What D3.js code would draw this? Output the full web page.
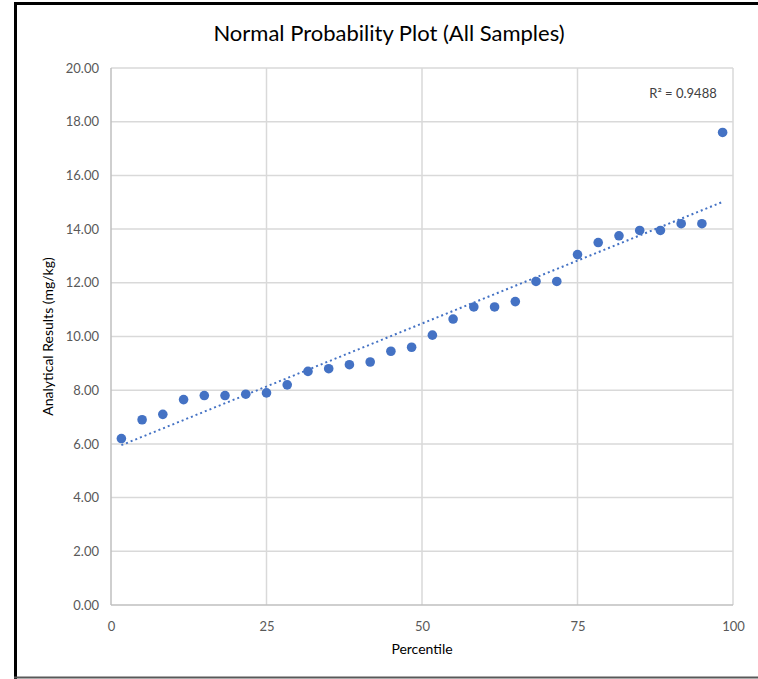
<!DOCTYPE html>
<html><head><meta charset="utf-8">
<script src="https://cdn.jsdelivr.net/npm/d3@7"></script>
<style>
html,body{margin:0;padding:0;background:#fff;}
svg{display:block;font-family:Lato,"Open Sans",sans-serif;}
</style></head>
<body>
<svg id="c" width="758" height="679"></svg>
<script>
const percentiles = [1.67,5,8.33,11.67,15,18.33,21.67,25,28.33,31.67,35,38.33,41.67,45,48.33,51.67,55,58.33,61.67,65,68.33,71.67,75,78.33,81.67,85,88.33,91.67,95,98.33];
const results = [6.2,6.9,7.1,7.65,7.8,7.8,7.85,7.9,8.2,8.7,8.8,8.95,9.05,9.45,9.6,10.05,10.65,11.1,11.1,11.3,12.05,12.05,13.05,13.5,13.75,13.95,13.95,14.2,14.2,17.6];
const xTicks = [0,25,50,75,100];
const yTicks = [0,2,4,6,8,10,12,14,16,18,20];
const title = "Normal Probability Plot (All Samples)";
const xLabel = "Percentile";
const yLabel = "Analytical Results (mg/kg)";
const r2Label = "R² = 0.9488";

const svg = d3.select("#c");
const x = d3.scaleLinear().domain([0,100]).range([111,733]);
const y = d3.scaleLinear().domain([0,20]).range([605,68]);

// frame
svg.append("line").attr("x1",15.5).attr("x2",15.5).attr("y1",2).attr("y2",679).attr("stroke","#000").attr("stroke-width",3);
svg.append("line").attr("x1",14).attr("x2",758).attr("y1",3.5).attr("y2",3.5).attr("stroke","#000").attr("stroke-width",3);
svg.append("line").attr("x1",14).attr("x2",758).attr("y1",677.5).attr("y2",677.5).attr("stroke","#595959").attr("stroke-width",2);

// gridlines
const g = svg.append("g");
g.selectAll(".hg").data(yTicks.filter(d=>d>0)).join("line")
  .attr("x1",x(0)).attr("x2",x(100)).attr("y1",d=>y(d)).attr("y2",d=>y(d))
  .attr("stroke","#d9d9d9").attr("stroke-width",1.5);
g.selectAll(".vg").data(xTicks.filter(d=>d>0)).join("line")
  .attr("x1",d=>x(d)).attr("x2",d=>x(d)).attr("y1",y(0)).attr("y2",y(20))
  .attr("stroke","#d9d9d9").attr("stroke-width",1.5);
g.append("line").attr("x1",x(0)).attr("x2",x(0)).attr("y1",y(0)).attr("y2",y(20)).attr("stroke","#bfbfbf").attr("stroke-width",1.5);
g.append("line").attr("x1",x(0)).attr("x2",x(100)).attr("y1",y(0)).attr("y2",y(0)).attr("stroke","#bfbfbf").attr("stroke-width",1.5);

// axes via d3
const xa = svg.append("g").attr("transform",`translate(0,${y(0)})`)
  .call(d3.axisBottom(x).tickValues(xTicks).tickSize(0).tickPadding(17));
xa.select(".domain").remove();
xa.selectAll("text").attr("fill","#595959").style("font-size","13px").style("font-family","Lato,sans-serif");
const ya = svg.append("g").attr("transform",`translate(${x(0)},0)`)
  .call(d3.axisLeft(y).tickValues(yTicks).tickFormat(d3.format(".2f")).tickSize(0).tickPadding(12));
ya.select(".domain").remove();
ya.selectAll("text").attr("fill","#595959").style("font-size","13px").style("font-family","Lato,sans-serif");

// trendline (least squares)
const n = percentiles.length;
const mx = d3.mean(percentiles), my = d3.mean(results);
const sxy = d3.sum(percentiles.map((p,i)=>(p-mx)*(results[i]-my)));
const sxx = d3.sum(percentiles.map(p=>(p-mx)*(p-mx)));
const slope = sxy/sxx, icpt = my - slope*mx;
const x0 = percentiles[0], x1 = percentiles[n-1];
svg.append("line")
  .attr("x1",x(x0)).attr("y1",y(icpt+slope*x0))
  .attr("x2",x(x1)).attr("y2",y(icpt+slope*x1))
  .attr("stroke","#4472c4").attr("stroke-width",2).attr("stroke-dasharray","2,3");

// points
svg.selectAll(".pt").data(percentiles).join("circle")
  .attr("cx",d=>x(d)).attr("cy",(d,i)=>y(results[i])).attr("r",4.8)
  .attr("fill","#4472c4");

// texts
svg.append("text").attr("x",389).attr("y",41).attr("text-anchor","middle")
  .style("font-size","22px").attr("fill","#000").text(title);
svg.append("text").attr("x",422).attr("y",654).attr("text-anchor","middle")
  .style("font-size","14px").attr("fill","#000").text(xLabel);
svg.append("text").attr("transform",`translate(53,${(y(0)+y(20))/2}) rotate(-90)`).attr("text-anchor","middle")
  .style("font-size","14px").attr("fill","#000").text(yLabel);
svg.append("text").attr("x",683).attr("y",98).attr("text-anchor","middle")
  .style("font-size","13px").attr("fill","#404040").text(r2Label);
</script>
</body></html>
